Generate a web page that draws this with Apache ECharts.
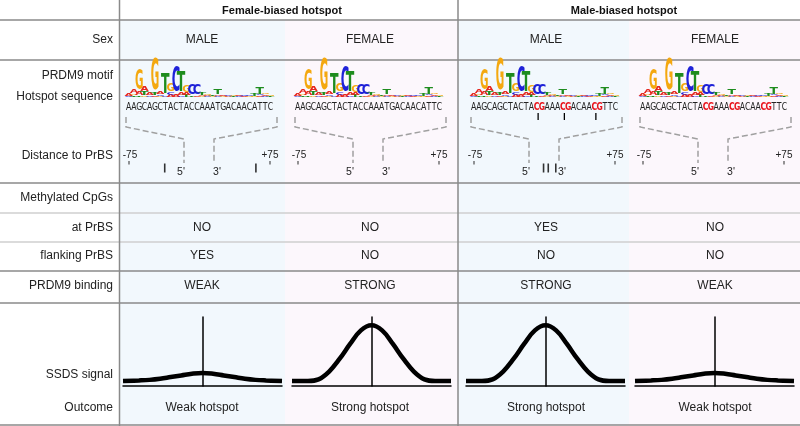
<!DOCTYPE html>
<html><head><meta charset="utf-8">
<script src="https://cdn.jsdelivr.net/npm/echarts@6/dist/echarts.min.js"></script>
<style>html,body{margin:0;padding:0;background:#fff}#c{width:800px;height:426px}</style>
</head><body><div id="c"></div>
<script>
// ---------------- data ----------------
const groupHeaders = ['Female-biased hotspot', 'Male-biased hotspot'];
const rowLabels = ['Sex', 'PRDM9 motif', 'Hotspot sequence', 'Distance to PrBS', 'Methylated CpGs', 'at PrBS', 'flanking PrBS', 'PRDM9 binding', 'SSDS signal', 'Outcome'];
const sexValues = ['MALE', 'FEMALE', 'MALE', 'FEMALE'];
const atPrbs = ['NO', 'NO', 'YES', 'NO'];
const flankingPrbs = ['YES', 'NO', 'NO', 'NO'];
const binding = ['WEAK', 'STRONG', 'STRONG', 'WEAK'];
const outcome = ['Weak hotspot', 'Strong hotspot', 'Strong hotspot', 'Weak hotspot'];
const sequences = ['AAGCAGCTACTACCAAATGACAACATTC', 'AAGCAGCTACTACCAAATGACAACATTC', 'AAGCAGCTACTACGAAACGACAACGTTC', 'AAGCAGCTACTACGAAACGACAACGTTC'];
const highlightCG = [false, false, true, true];
const methylMarks = [[], [], [12, 17, 23], []];          // sequence index of methylated C
const distanceTicks = [[-37, 60], [], [-1, 4, 12], []];  // bp from PrBS centre
const distanceEnds = [-75, 75];
const signalX = [-75, -60, -50, -40, -30, -20, -10, 0, 10, 20, 30, 40, 50, 60, 75];
const strongSignal = [0, 0, 0.03, 0.17, 0.4, 0.67, 0.91, 1, 0.91, 0.67, 0.4, 0.17, 0.03, 0, 0];
const weakSignal = [0, 0.01, 0.02, 0.04, 0.07, 0.1, 0.13, 0.145, 0.13, 0.1, 0.07, 0.04, 0.02, 0.01, 0];
const signalKind = ['weak', 'strong', 'strong', 'weak'];
// PRDM9 motif logo: per position, stack bottom->top of [letter, height]
const motifLogo = [
  [['C', 1], ['A', 3]],
  [['T', 1.5], ['G', 1.5], ['A', 4]],
  [['T', 1.5], ['A', 4], ['G', 20]],
  [['G', 1.5], ['T', 4], ['A', 5]],
  [['C', 1.5], ['A', 2]],
  [['A', 1.5], ['T', 2], ['G', 31]],
  [['G', 1], ['C', 1.5], ['A', 2]],
  [['C', 1.5], ['T', 19]],
  [['A', 2], ['C', 2.5], ['G', 7]],
  [['A', 3], ['C', 24]],
  [['C', 1.5], ['A', 2], ['T', 19]],
  [['T', 2], ['A', 2.5], ['G', 6]],
  [['T', 1.5], ['C', 10]],
  [['A', 1.5], ['C', 10]],
  [['G', 1], ['A', 1], ['T', 2]],
  [['C', 1], ['A', 1], ['G', 1.5]],
  [['G', 1], ['T', 1]],
  [['C', 1], ['A', 1], ['T', 5]],
  [['G', 1], ['A', 1.5]],
  [['A', 1], ['C', 1]],
  [['T', 0.8], ['G', 0.8]],
  [['C', 0.8], ['A', 0.8]],
  [['A', 0.8], ['C', 0.8]],
  [['G', 1], ['C', 1]],
  [['G', 1], ['T', 3]],
  [['A', 1.5], ['C', 1], ['T', 6]],
  [['C', 1], ['A', 1.5], ['G', 1]],
  [['T', 1], ['G', 1.5]]
];

// ---------------- layout ----------------
const FONT = '"Liberation Sans", Arial, sans-serif';
const SEQFONT = '"DejaVu Sans Condensed", "DejaVu Sans", sans-serif';
const LOGOFONT = 'bold 20px "DejaVu Sans", sans-serif';
const colCenter = [202, 370, 546, 715];
const headerCenter = [282, 624];
const seqX0 = [126, 295, 471, 640];
const bellLeft = [123, 292, 466, 635];
const CH = 5.25;
const letterColor = {A: '#e5261f', C: '#1f22d8', G: '#f4a80f', T: '#1e8c1e'};
const letterEm = {A: 0.774, C: 0.734, G: 0.821, T: 0.682};
const rowY = [40, 76, 97, 156, 198, 228, 256, 286, 375, 408];

const g = [];
function txt(x, y, text, o) {
  o = o || {};
  g.push({type: 'text', x: x, y: y, z: 20, scaleX: o.sx || 1, scaleY: o.sy || 1, silent: true,
    style: {text: text, fill: o.fill || '#222', font: o.font || ('12px ' + FONT), align: o.align || 'center', verticalAlign: 'middle'}});
}
function line(x1, y1, x2, y2, stroke, w) {
  g.push({type: 'line', z: 10, silent: true, shape: {x1: x1, y1: y1, x2: x2, y2: y2}, style: {stroke: stroke, lineWidth: w}});
}
function poly(pts) {
  g.push({type: 'polyline', z: 10, silent: true, shape: {points: pts}, style: {stroke: '#a0a0a0', lineWidth: 1.5, lineDash: [6, 3], fill: null}});
}
// backgrounds
const colEdges = [120, 285, 458, 629, 800];
const bgCols = ['#f2f8fd', '#fcf7fc', '#f2f8fd', '#fcf7fc'];
for (let c = 0; c < 4; c++) {
  g.push({type: 'rect', z: -100, silent: true, shape: {x: colEdges[c], y: 20, width: colEdges[c + 1] - colEdges[c], height: 405}, style: {fill: bgCols[c]}});
}
// table lines
const dark = '#8a8a8a', light = '#cfcfcf';
[20, 60, 183, 271, 303, 425].forEach(y => line(0, y, 800, y, dark, 1.5));
[213, 242].forEach(y => line(0, y, 800, y, light, 1.5));
line(119.5, 0, 119.5, 426, dark, 1.5);
line(458, 0, 458, 426, dark, 1.5);
// headers
groupHeaders.forEach((h, i) => txt(headerCenter[i], 11, h, {font: 'bold 11px ' + FONT, fill: '#111'}));
// row labels
rowLabels.forEach((l, i) => txt(113, rowY[i], l, {align: 'right'}));
// cell texts
for (let c = 0; c < 4; c++) {
  txt(colCenter[c], rowY[0], sexValues[c]);
  txt(colCenter[c], rowY[5], atPrbs[c]);
  txt(colCenter[c], rowY[6], flankingPrbs[c]);
  txt(colCenter[c], rowY[7], binding[c]);
  txt(colCenter[c], rowY[9], outcome[c]);
  const x0 = seqX0[c];
  // logo
  motifLogo.forEach((stack, p) => {
    let cum = 0;
    const cx = x0 + (p + 0.5) * CH;
    stack.forEach(([L, h]) => {
      const cy = 97 - cum - h / 2;
      txt(cx, cy, L, {font: LOGOFONT, fill: letterColor[L], sx: 8.5 / (letterEm[L] * 20), sy: h / (0.729 * 20)});
      cum += h;
    });
  });
  // sequence
  const s = sequences[c];
  for (let i = 0; i < s.length; i++) {
    const isCG = highlightCG[c] && ((s[i] === 'C' && s[i + 1] === 'G') || (s[i] === 'G' && s[i - 1] === 'C'));
    txt(x0 + (i + 0.5) * CH, 107.5, s[i], {font: (isCG ? 'bold ' : '') + '10px ' + SEQFONT, sx: 0.86, fill: isCG ? '#e8141c' : '#222'});
  }
  methylMarks[c].forEach(i => line(x0 + (i + 0.5) * CH + 1.5, 113, x0 + (i + 0.5) * CH + 1.5, 120, '#000', 1.3));
  // brackets
  poly([[x0, 117], [x0, 127], [x0 + 58, 139], [x0 + 58, 163]]);
  poly([[x0 + 151, 117], [x0 + 151, 127], [x0 + 88, 139], [x0 + 88, 163]]);
  txt(x0 + 4, 155, '-75', {font: '10px ' + FONT});
  txt(x0 + 144, 155, '+75', {font: '10px ' + FONT});
  txt(x0 + 55, 172, "5'", {font: '10.5px ' + FONT});
  txt(x0 + 91, 172, "3'", {font: '10.5px ' + FONT});
}

// ---------------- chart ----------------
const grids = [], xAxes = [], yAxes = [], series = [];
for (let c = 0; c < 4; c++) {
  grids.push({left: bellLeft[c], top: 317, width: 159, height: 69});
  xAxes.push({type: 'value', gridIndex: c, min: -75, max: 75, axisLine: {show: true, onZero: false, lineStyle: {color: '#000', width: 1.5}}, axisTick: {show: false}, axisLabel: {show: false}, splitLine: {show: false}});
  yAxes.push({type: 'value', gridIndex: c, min: -0.09, max: 1.15, axisLine: {show: true, onZero: true, lineStyle: {color: '#000', width: 1.5}}, axisTick: {show: false}, axisLabel: {show: false}, splitLine: {show: false}});
  const sig = signalKind[c] === 'strong' ? strongSignal : weakSignal;
  series.push({type: 'line', xAxisIndex: c, yAxisIndex: c, data: signalX.map((x, i) => [x, sig[i]]), smooth: 0.4, symbol: 'none', lineStyle: {color: '#000', width: 4.5}, silent: true, z: 5});
}
for (let c = 0; c < 4; c++) {
  const gi = 4 + c;
  grids.push({left: seqX0[c] + 3, top: 161, width: 141, height: 14});
  xAxes.push({type: 'value', gridIndex: gi, min: -75, max: 75, show: false});
  yAxes.push({type: 'value', gridIndex: gi, min: 0, max: 1, show: false});
  series.push({type: 'scatter', xAxisIndex: gi, yAxisIndex: gi, data: distanceTicks[c].map(v => [v, 0.5]), symbol: 'rect', symbolSize: [1.6, 9], itemStyle: {color: '#000'}, silent: true});
  series.push({type: 'scatter', xAxisIndex: gi, yAxisIndex: gi, data: distanceEnds.map(v => [v, 0.88]), symbol: 'rect', symbolSize: [1.2, 3.5], itemStyle: {color: '#222'}, silent: true});
}

const chart = echarts.init(document.getElementById('c'));
chart.setOption({
  animation: false,
  grid: grids, xAxis: xAxes, yAxis: yAxes, series: series,
  graphic: {elements: g}
});
</script>
</body></html>
